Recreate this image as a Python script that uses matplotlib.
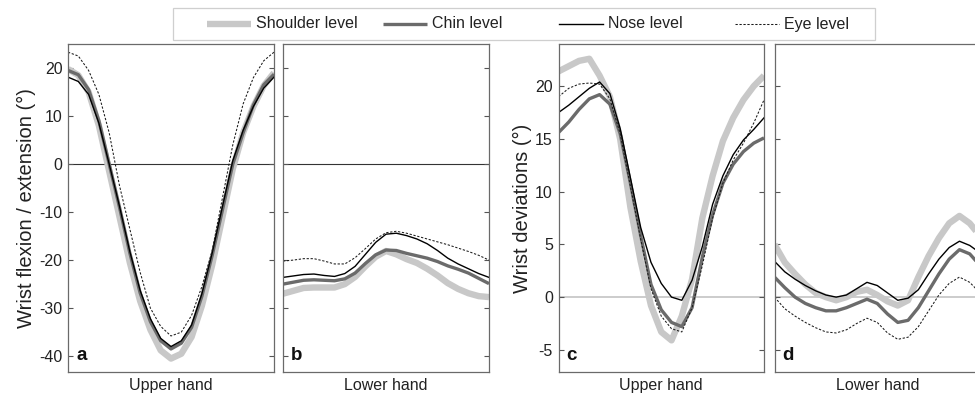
import matplotlib
matplotlib.use("Agg")
import matplotlib.pyplot as plt
from matplotlib.lines import Line2D
from matplotlib.patches import Rectangle

plt.rcParams['font.family'] = ['Liberation Sans', 'DejaVu Sans']
plt.rcParams['axes.unicode_minus'] = False

# normalised movement cycle (%)
x = [0, 5, 10, 15, 20, 25, 30, 35, 40, 45, 50, 55, 60, 65, 70, 75, 80, 85, 90, 95, 100]

series_names = ["Shoulder level", "Chin level", "Nose level", "Eye level"]

# Panel a: wrist flexion/extension, upper hand
a_shoulder = [19.8, 18.5, 15.0, 8.0, -1.5, -11.0, -20.5, -28.5, -34.5, -38.8, -40.5, -39.5, -36.0, -29.5, -21.0, -11.0, -1.0, 6.5, 12.0, 16.3, 19.0]
a_chin = [19.5, 18.6, 15.5, 9.0, 0.0, -9.0, -18.5, -26.8, -32.8, -36.8, -38.5, -37.3, -34.0, -27.5, -19.0, -9.5, 0.0, 6.5, 12.3, 16.5, 18.7]
a_nose = [18.1, 17.2, 14.5, 8.5, 0.0, -8.8, -18.2, -26.3, -32.2, -36.3, -38.0, -36.8, -33.5, -27.0, -18.5, -8.8, 0.7, 7.0, 12.0, 15.8, 18.1]
a_eye = [23.3, 22.5, 19.5, 14.5, 6.5, -4.5, -13.5, -22.5, -30.0, -33.8, -35.8, -35.0, -31.5, -25.5, -18.0, -7.0, 4.0, 12.5, 18.0, 21.5, 23.3]

# Panel b: wrist flexion/extension, lower hand
b_shoulder = [-27.0, -26.4, -25.8, -25.7, -25.7, -25.7, -25.0, -23.5, -21.3, -19.3, -18.1, -18.8, -19.8, -20.6, -21.8, -23.2, -24.8, -26.0, -26.9, -27.5, -27.7]
b_chin = [-25.0, -24.6, -24.2, -24.1, -24.2, -24.3, -23.9, -22.7, -20.7, -18.9, -17.9, -18.0, -18.6, -19.1, -19.6, -20.3, -21.2, -21.9, -22.7, -23.8, -24.9]
b_nose = [-23.6, -23.3, -23.0, -22.9, -23.2, -23.4, -22.8, -21.3, -18.8, -16.3, -14.6, -14.4, -14.9, -15.6, -16.6, -18.0, -19.6, -20.8, -21.8, -22.8, -23.6]
b_eye = [-20.2, -20.0, -19.7, -19.7, -20.2, -20.8, -20.8, -19.5, -17.6, -15.6, -14.3, -14.0, -14.4, -15.0, -15.6, -16.2, -16.8, -17.5, -18.2, -19.0, -20.0]

# Panel c: wrist deviations, upper hand
c_shoulder = [21.4, 21.9, 22.4, 22.6, 21.0, 19.0, 15.0, 8.5, 3.4, -0.8, -3.3, -4.1, -1.8, 1.7, 7.5, 11.5, 14.8, 17.0, 18.7, 20.0, 21.0]
c_chin = [15.6, 16.6, 17.8, 18.8, 19.2, 18.3, 15.5, 10.8, 5.8, 1.2, -1.2, -2.4, -2.8, -1.0, 3.8, 7.8, 10.8, 12.6, 13.8, 14.6, 15.1]
c_nose = [17.5, 18.2, 19.0, 19.8, 20.4, 19.3, 16.0, 11.3, 6.6, 3.3, 1.3, 0.0, -0.3, 1.6, 4.8, 8.8, 11.5, 13.5, 14.9, 15.9, 17.0]
c_eye = [19.0, 19.8, 20.2, 20.3, 20.2, 18.8, 15.5, 10.5, 5.5, 0.8, -1.8, -3.0, -3.3, -1.0, 3.0, 7.5, 10.8, 13.0, 14.6, 16.5, 18.7]

# Panel d: wrist deviations, lower hand
d_shoulder = [5.0, 3.3, 2.2, 1.2, 0.4, 0.0, -0.3, 0.0, 0.5, 0.7, 0.2, -0.4, -0.8, -0.3, 1.9, 3.9, 5.6, 7.0, 7.7, 7.0, 5.8]
d_chin = [1.9, 0.9, 0.0, -0.6, -1.0, -1.3, -1.3, -1.0, -0.6, -0.2, -0.6, -1.6, -2.4, -2.2, -1.0, 0.6, 2.2, 3.6, 4.5, 4.1, 3.0]
d_nose = [3.4, 2.4, 1.7, 1.1, 0.6, 0.2, 0.0, 0.2, 0.8, 1.4, 1.1, 0.4, -0.3, -0.1, 0.7, 2.2, 3.6, 4.7, 5.3, 4.9, 4.2]
d_eye = [0.0, -1.1, -1.8, -2.4, -2.9, -3.3, -3.4, -3.1, -2.5, -2.0, -2.4, -3.4, -4.0, -3.8, -2.8, -1.3, 0.2, 1.3, 1.9, 1.4, 0.4]

panel_letters = ["a", "b", "c", "d"]
panel_xlabels = ["Upper hand", "Lower hand", "Upper hand", "Lower hand"]
ylabel_left = "Wrist flexion / extension (°)"
ylabel_right = "Wrist deviations (°)"
yticks_left = [-40, -30, -20, -10, 0, 10, 20]
yticks_right = [-5, 0, 5, 10, 15, 20]

styles = [
    dict(color="#c8c8c8", lw=4.6, ls="-", solid_capstyle="butt", solid_joinstyle="round"),
    dict(color="#6b6b6b", lw=2.4, ls="-", solid_capstyle="butt", solid_joinstyle="round"),
    dict(color="#000000", lw=1.0, ls="-", solid_joinstyle="round"),
    dict(color="#1a1a1a", lw=0.75, ls=(0, (2.2, 1.6))),
]

W, H = 975, 396
fig = plt.figure(figsize=(W / 100, H / 100), dpi=100)

def px_axes(l, r, t, b):
    return fig.add_axes([l / W, 1 - b / H, (r - l) / W, (b - t) / H])

axes = [
    px_axes(68, 274, 44, 372),
    px_axes(283, 489, 44, 372),
    px_axes(558.5, 764, 44, 372),
    px_axes(774.5, 980, 44, 372),
]

data = [
    [a_shoulder, a_chin, a_nose, a_eye],
    [b_shoulder, b_chin, b_nose, b_eye],
    [c_shoulder, c_chin, c_nose, c_eye],
    [d_shoulder, d_chin, d_nose, d_eye],
]

for i, ax in enumerate(axes):
    if i < 2:
        ax.set_ylim(-43.3, 25)
        ax.set_yticks(yticks_left)
        ax.axhline(0, color="#333333", lw=0.8, zorder=1)
    else:
        ax.set_ylim(-7.1, 24)
        ax.set_yticks(yticks_right)
        ax.axhline(0, color="#c8c8c8", lw=1.3, zorder=1)
    ax.set_xlim(0, 100)
    for s, st in zip(data[i], styles):
        ax.plot(x, s, zorder=2, **st)
    ax.set_xticks([])
    ax.tick_params(axis="y", direction="in", length=3.5, width=0.8, colors="#555555",
                   labelcolor="#222222", labelsize=11.5, right=True, pad=4)
    if i in (1, 3):
        ax.tick_params(axis="y", labelleft=False)
    for sp in ax.spines.values():
        sp.set_color("#6a6a6a")
        sp.set_linewidth(0.9)
    ax.text(0.04, 0.025, panel_letters[i], transform=ax.transAxes, fontsize=13.5,
            fontweight="bold", ha="left", va="bottom", color="#111111")
    ax.set_xlabel(panel_xlabels[i], fontsize=11.5, labelpad=4, color="#222222")

axes[0].set_ylabel(ylabel_left, fontsize=14.5, labelpad=2, color="#222222")
axes[2].set_ylabel(ylabel_right, fontsize=14.5, labelpad=2, color="#222222")

# legend drawn in figure pixel layout
box = Rectangle((173 / W, 1 - 40 / H), 702 / W, 32 / H, transform=fig.transFigure,
                facecolor="white", edgecolor="#cfcfcf", lw=0.9)
fig.add_artist(box)
leg_line_x = [207, 383, 559, 735]
leg_y = 1 - 24 / H
for name, st, lx in zip(series_names, styles, leg_line_x):
    fig.add_artist(Line2D([lx / W, (lx + 44) / W], [leg_y, leg_y],
                          transform=fig.transFigure, **st))
    fig.text((lx + 49) / W, leg_y, name, fontsize=11.5, va="center", ha="left",
             color="#222222")

fig.savefig("out.png", dpi=100)
